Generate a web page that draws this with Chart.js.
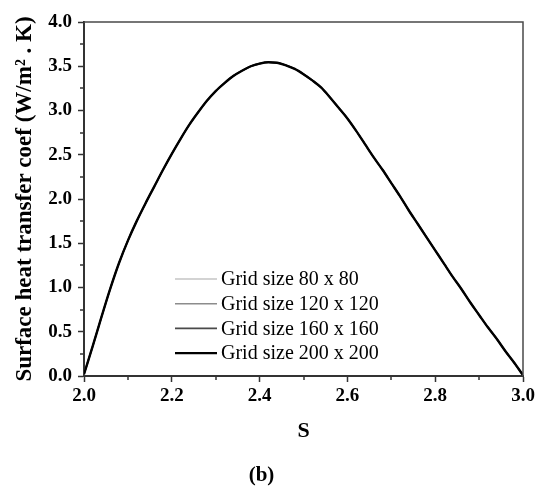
<!DOCTYPE html>
<html>
<head>
<meta charset="utf-8">
<script src="https://cdn.jsdelivr.net/npm/chart.js@4"></script>
<style>
  body { margin: 0; background: #fff; }
  #wrap { width: 544px; height: 486px; }
</style>
</head>
<body>
<div id="wrap"><canvas id="chart"></canvas></div>
<script>
// S positions
var sValues = [2.00, 2.02, 2.04, 2.06, 2.08, 2.10, 2.12, 2.14, 2.16, 2.18,
  2.20, 2.22, 2.24, 2.26, 2.28, 2.30, 2.32, 2.34, 2.36, 2.38,
  2.40, 2.42, 2.44, 2.46, 2.48, 2.50, 2.52, 2.54, 2.56, 2.58,
  2.60, 2.62, 2.64, 2.66, 2.68, 2.70, 2.72, 2.74, 2.76, 2.78,
  2.80, 2.82, 2.84, 2.86, 2.88, 2.90, 2.92, 2.94, 2.96, 2.98, 3.00];

// heat transfer coef, one list per grid size (they sit on top of each other)
var grid80 = [0.02, 0.34, 0.67, 0.99, 1.28, 1.53, 1.75, 1.95, 2.14, 2.33,
  2.51, 2.68, 2.84, 2.98, 3.11, 3.22, 3.31, 3.39, 3.45, 3.50,
  3.53, 3.545, 3.54, 3.51, 3.47, 3.41, 3.34, 3.26, 3.15, 3.03,
  2.91, 2.77, 2.62, 2.47, 2.33, 2.18, 2.03, 1.87, 1.72, 1.57,
  1.42, 1.27, 1.12, 0.98, 0.83, 0.69, 0.55, 0.42, 0.28, 0.15, 0.01];
var grid120 = [0.02, 0.34, 0.67, 0.99, 1.28, 1.53, 1.75, 1.95, 2.14, 2.33,
  2.51, 2.68, 2.84, 2.98, 3.11, 3.22, 3.31, 3.39, 3.45, 3.50,
  3.53, 3.545, 3.54, 3.51, 3.47, 3.41, 3.34, 3.26, 3.15, 3.03,
  2.91, 2.77, 2.62, 2.47, 2.33, 2.18, 2.03, 1.87, 1.72, 1.57,
  1.42, 1.27, 1.12, 0.98, 0.83, 0.69, 0.55, 0.42, 0.28, 0.15, 0.01];
var grid160 = [0.02, 0.34, 0.67, 0.99, 1.28, 1.53, 1.75, 1.95, 2.14, 2.33,
  2.51, 2.68, 2.84, 2.98, 3.11, 3.22, 3.31, 3.39, 3.45, 3.50,
  3.53, 3.545, 3.54, 3.51, 3.47, 3.41, 3.34, 3.26, 3.15, 3.03,
  2.91, 2.77, 2.62, 2.47, 2.33, 2.18, 2.03, 1.87, 1.72, 1.57,
  1.42, 1.27, 1.12, 0.98, 0.83, 0.69, 0.55, 0.42, 0.28, 0.15, 0.01];
var grid200 = [0.02, 0.34, 0.67, 0.99, 1.28, 1.53, 1.75, 1.95, 2.14, 2.33,
  2.51, 2.68, 2.84, 2.98, 3.11, 3.22, 3.31, 3.39, 3.45, 3.50,
  3.53, 3.545, 3.54, 3.51, 3.47, 3.41, 3.34, 3.26, 3.15, 3.03,
  2.91, 2.77, 2.62, 2.47, 2.33, 2.18, 2.03, 1.87, 1.72, 1.57,
  1.42, 1.27, 1.12, 0.98, 0.83, 0.69, 0.55, 0.42, 0.28, 0.15, 0.01];

var seriesNames = ["Grid size 80 x 80", "Grid size 120 x 120", "Grid size 160 x 160", "Grid size 200 x 200"];
var seriesData = [grid80, grid120, grid160, grid200];
var seriesColors = ["#c4c4c4", "#8c8c8c", "#4a4a4a", "#000000"];

var serif = "'Liberation Serif', 'Times New Roman', serif";

function pts(vals) {
  return sValues.map(function (s, i) { return { x: s, y: vals[i] }; });
}

var datasets = seriesNames.map(function (name, i) {
  return {
    label: name,
    data: pts(seriesData[i]),
    borderColor: seriesColors[i],
    borderWidth: i == 3 ? 2.4 : 1.6,
    pointRadius: 0,
    fill: false,
    cubicInterpolationMode: 'monotone',
    order: 3 - i   // black one on top
  };
});

// frame on top/right, minor ticks, and the in-plot legend
var extras = {
  id: 'extras',
  afterDatasetsDraw: function (chart) {
    var ctx = chart.ctx, a = chart.chartArea;
    var xs = chart.scales.x, ys = chart.scales.y;
    ctx.save();
    ctx.strokeStyle = '#4a4a4a';
    ctx.lineWidth = 1.5;
    ctx.beginPath();
    ctx.moveTo(a.left, a.top);
    ctx.lineTo(a.right, a.top);
    ctx.lineTo(a.right, a.bottom);
    ctx.stroke();

    ctx.strokeStyle = '#333';
    ctx.lineWidth = 1.5;
    ctx.beginPath();
    for (var v = 2.1; v < 3; v += 0.2) {
      var px = Math.round(xs.getPixelForValue(v));
      ctx.moveTo(px, a.bottom);
      ctx.lineTo(px, a.bottom + 4);
    }
    for (var w = 0.25; w < 4; w += 0.5) {
      var py = Math.round(ys.getPixelForValue(w));
      ctx.moveTo(a.left, py);
      ctx.lineTo(a.left - 4, py);
    }
    ctx.stroke();

    ctx.font = '20px ' + serif;
    ctx.textBaseline = 'middle';
    ctx.fillStyle = '#000';
    chart.data.datasets.forEach(function (d, i) {
      var y = 279 + i * 24.7;
      ctx.strokeStyle = d.borderColor;
      ctx.lineWidth = d.borderWidth;
      ctx.beginPath();
      ctx.moveTo(175, y);
      ctx.lineTo(217, y);
      ctx.stroke();
      ctx.fillText(d.label, 221, y + 1);
    });
    ctx.restore();
  }
};

new Chart(document.getElementById('chart'), {
  type: 'line',
  data: { datasets: datasets },
  options: {
    responsive: true,
    maintainAspectRatio: false,
    animation: false,
    layout: { padding: { top: 22, right: 21, left: 0, bottom: 0 } },
    plugins: {
      legend: { display: false },
      tooltip: { enabled: false },
      title: {
        display: true,
        position: 'bottom',
        text: '(b)',
        color: '#000',
        font: { family: serif, size: 21, weight: 'bold', lineHeight: 1 },
        padding: 0
      }
    },
    scales: {
      x: {
        type: 'linear',
        min: 2, max: 3,
        border: { color: '#333', width: 2 },
        grid: { drawOnChartArea: false, tickLength: 6, tickColor: '#333', tickWidth: 1.5 },
        ticks: {
          stepSize: 0.2,
          padding: 3,
          color: '#000',
          font: { family: serif, size: 19, weight: 'bold' },
          callback: function (v) { return v.toFixed(1); }
        },
        title: {
          display: true,
          text: 'S',
          color: '#000',
          font: { family: serif, size: 22, weight: 'bold' },
          padding: { top: 8, bottom: 20 }
        },
        afterFit: function (scale) { scale.height = 89; }
      },
      y: {
        min: 0, max: 4,
        border: { color: '#333', width: 2 },
        grid: { drawOnChartArea: false, tickLength: 6, tickColor: '#333', tickWidth: 1.5 },
        ticks: {
          stepSize: 0.5,
          padding: 6,
          color: '#000',
          font: { family: serif, size: 19, weight: 'bold' },
          callback: function (v) { return v.toFixed(1); }
        },
        title: {
          display: true,
          text: 'Surface heat transfer coef (W/m\u00b2 . K)',
          color: '#000',
          font: { family: serif, size: 23, weight: 'bold' },
          padding: { top: 11, bottom: 4 }
        },
        afterFit: function (scale) { scale.width = 84; }
      }
    }
  },
  plugins: [extras]
});
</script>
</body>
</html>
